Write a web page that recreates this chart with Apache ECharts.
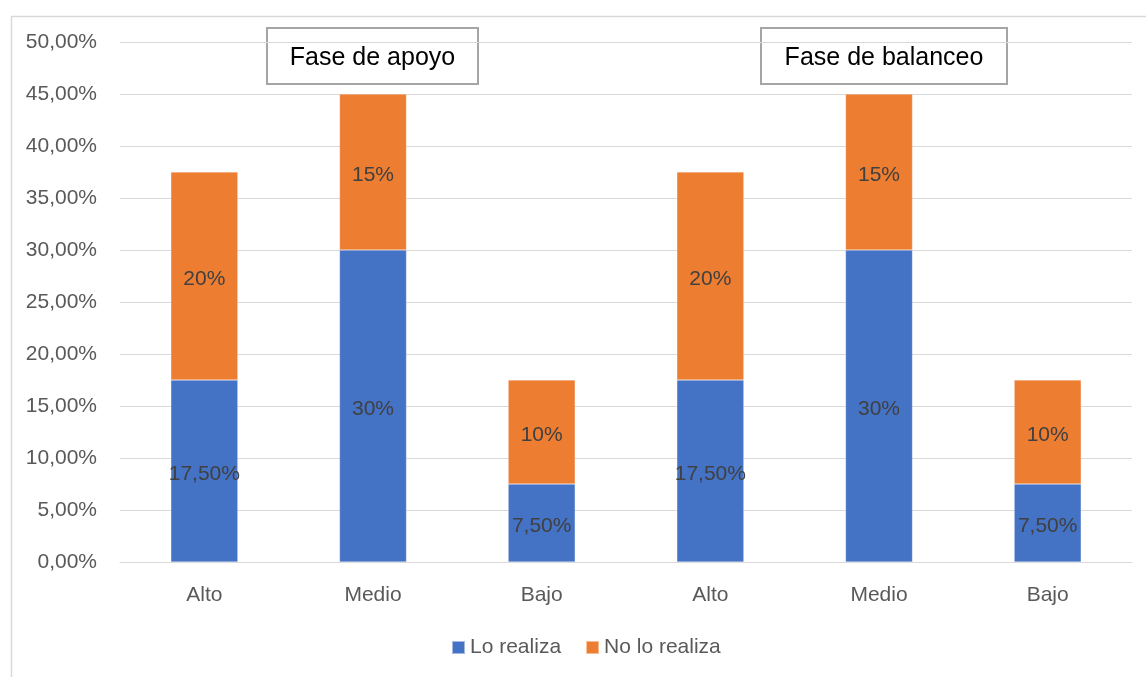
<!DOCTYPE html>
<html>
<head>
<meta charset="utf-8">
<style>
  html, body { margin: 0; padding: 0; background: #ffffff; }
  #chart { width: 1146px; height: 677px; }
</style>
<script src="https://cdn.jsdelivr.net/npm/echarts@6/dist/echarts.min.js"></script>
</head>
<body>
<div id="chart"></div>
<script>
// Categories: three levels for each gait phase
const categories = ['Alto', 'Medio', 'Bajo', 'Alto', 'Medio', 'Bajo'];
// Percentages per series
const loRealiza = [17.5, 30, 7.5, 17.5, 30, 7.5];
const noLoRealiza = [20, 15, 10, 20, 15, 10];
// Data label texts as printed on the bars
const loRealizaLabels = ['17,50%', '30%', '7,50%', '17,50%', '30%', '7,50%'];
const noLoRealizaLabels = ['20%', '15%', '10%', '20%', '15%', '10%'];
// Phase captions
const phaseTitles = ['Fase de apoyo', 'Fase de balanceo'];

const FONT = '"Liberation Sans", "DejaVu Sans", sans-serif';
const TEXT_SIZE = 21;

const chart = echarts.init(document.getElementById('chart'));

function captionBox(left, width, text) {
  return {
    type: 'group',
    left: left,
    top: 27,
    z: 100,
    children: [
      {
        type: 'rect',
        shape: { x: 0, y: 0, width: width, height: 56 },
        style: { fill: '#ffffff', stroke: '#a5a5a5', lineWidth: 2 }
      },
      {
        type: 'text',
        x: width / 2,
        y: 30,
        style: {
          text: text,
          font: '25px ' + FONT,
          fill: '#000000',
          align: 'center',
          verticalAlign: 'middle'
        }
      }
    ]
  };
}

function barLabel(texts) {
  return {
    show: true,
    position: 'inside',
    offset: [0, 3],
    fontFamily: FONT,
    fontSize: TEXT_SIZE,
    color: '#404040',
    formatter: p => texts[p.dataIndex]
  };
}

chart.setOption({
  animation: false,
  backgroundColor: '#ffffff',
  grid: { left: 120, right: 14, top: 42, bottom: 115, containLabel: false },
  legend: {
    data: ['Lo realiza', 'No lo realiza'],
    left: 451,
    top: 637,
    padding: 0,
    itemWidth: 13,
    itemHeight: 13,
    itemGap: 24,
    icon: 'rect',
    textStyle: { fontFamily: FONT, fontSize: TEXT_SIZE, color: '#595959' }
  },
  xAxis: {
    type: 'category',
    data: categories,
    axisLine: { show: true, lineStyle: { color: '#d9d9d9', width: 1 } },
    axisTick: { show: false },
    axisLabel: { fontFamily: FONT, fontSize: TEXT_SIZE, color: '#595959', margin: 23 }
  },
  yAxis: {
    type: 'value',
    min: 0,
    max: 50,
    interval: 5,
    axisLine: { show: false },
    axisTick: { show: false },
    splitLine: { lineStyle: { color: '#d9d9d9', width: 1 } },
    axisLabel: {
      fontFamily: FONT,
      fontSize: TEXT_SIZE,
      color: '#595959',
      margin: 23,
      formatter: v => v.toFixed(2).replace('.', ',') + '%'
    }
  },
  series: [
    {
      name: 'Lo realiza',
      type: 'bar',
      stack: 'total',
      barWidth: 67,
      data: loRealiza,
      itemStyle: { color: '#4472c4', borderColor: 'rgba(255,255,255,0.5)', borderWidth: 0.5 },
      label: barLabel(loRealizaLabels)
    },
    {
      name: 'No lo realiza',
      type: 'bar',
      stack: 'total',
      barWidth: 67,
      data: noLoRealiza,
      itemStyle: { color: '#ed7d31', borderColor: 'rgba(255,255,255,0.5)', borderWidth: 0.5 },
      label: barLabel(noLoRealizaLabels)
    }
  ],
  graphic: [
    {
      type: 'rect',
      left: 9,
      top: 14,
      z: -10,
      shape: { x: 0, y: 0, width: 1200, height: 700 },
      style: { fill: 'none', stroke: '#d9d9d9', lineWidth: 1.5 }
    },
    captionBox(266, 211, phaseTitles[0]),
    captionBox(760, 246, phaseTitles[1])
  ]
});
</script>
</body>
</html>
